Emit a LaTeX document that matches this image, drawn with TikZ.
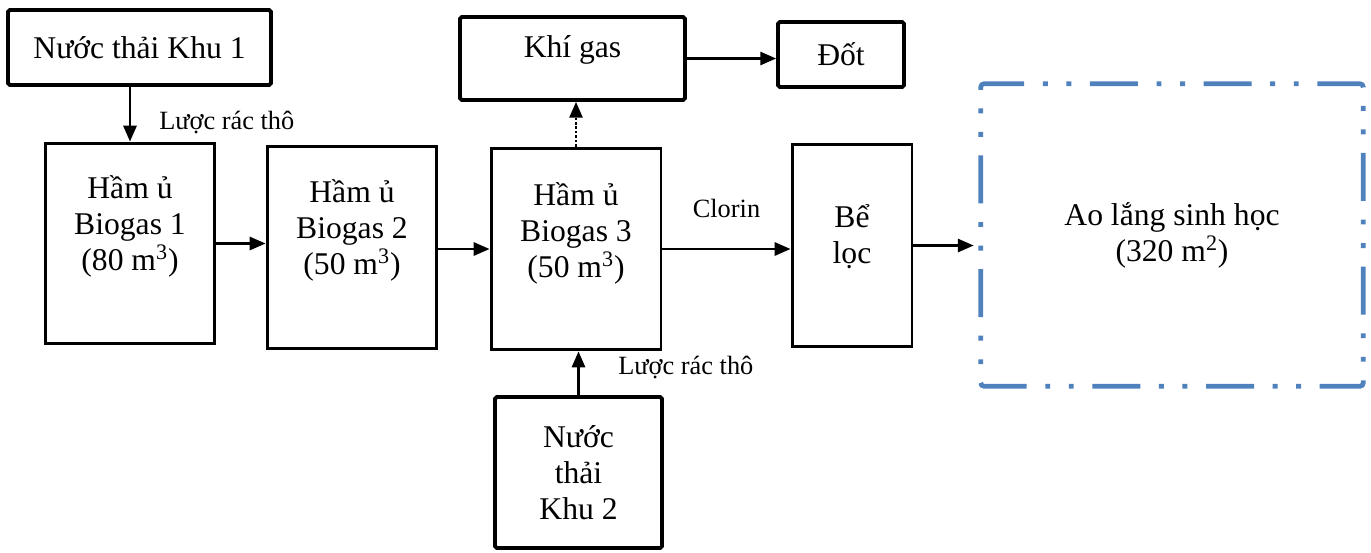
\documentclass[tikz,border=0pt]{standalone}
\usepackage{fontspec}
\setmainfont{Liberation Serif}
\usepackage{xcolor}
\usetikzlibrary{arrows.meta,positioning}
\definecolor{pondblue}{RGB}{79,129,189}

\begin{document}
\begin{tikzpicture}[x=0.02cm, y=-0.02cm, >={Triangle[length=9pt,width=7.5pt]},
  font=\fontsize{18}{20.5}\selectfont,
  src/.style={draw, line width=2.2pt, rounded corners=1pt, inner sep=0pt, align=center},
  tank/.style={draw, line width=1.7pt, inner sep=0pt, align=center},
  txt/.style={align=center, inner sep=0pt},
  lab/.style={font=\fontsize{15}{18}\selectfont, inner sep=1pt},
  flow/.style={->, line width=1.3pt},
  gasflow/.style={flow, dash pattern=on 1.5pt off 1pt},
  pond/.style={draw=pondblue, line width=2.7pt, rounded corners=2pt,
    dash pattern=on 27.3pt off 10.6pt on 2.8pt off 10.6pt on 2.8pt off 10.6pt,
    dash phase=27.3pt}]
\useasboundingbox (0,0) rectangle (1371,552);
% sources
\node[src, minimum width=5.26cm, minimum height=1.5cm] (k1) at (139.5,47.5) {Nước thải Khu 1};
\node[src, minimum width=3.34cm, minimum height=3.02cm] (k2) at (578.5,472.5) {Nước\\thải\\Khu 2};
% biogas tanks
\node[tank, minimum width=3.4cm, minimum height=4.02cm] (h1) at (130,243.5) {};
\node[txt] (h1t) at (130,226) {Hầm ủ\\Biogas 1\\(80 m\textsuperscript{3})};
\node[tank, minimum width=3.4cm, minimum height=4.06cm] (h2) at (352,247.5) {};
\node[txt] (h2t) at (352,230) {Hầm ủ\\Biogas 2\\(50 m\textsuperscript{3})};
\node[tank, minimum width=3.4cm, minimum height=4.04cm] (h3) at (576,249) {};
\node[txt] (h3t) at (576,233) {Hầm ủ\\Biogas 3\\(50 m\textsuperscript{3})};
% gas line
\node[src, minimum width=4.5cm, minimum height=1.66cm] (khi) at (572.5,58.5) {};
\node[txt] (khit) at (572.5,50) {Khí gas};
\node[src, minimum width=2.52cm, minimum height=1.3cm] (dot) at (841,54.5) {Đốt};
% filter and pond
\node[tank, minimum width=2.4cm, minimum height=4.06cm] (be) at (852,245.5) {};
\node[txt] (bet) at (852,237) {Bể\\lọc};
\node[minimum width=7.64cm, minimum height=6.04cm, inner sep=0pt, align=center] (ao) at (1172,235) {Ao lắng sinh học\\(320 m\textsuperscript{2})};
\draw[pond] (ao.south west) -- (ao.north west) -- (ao.north east) -- (ao.south east) -- cycle;
% flows
\draw[flow] (h1.north |- k1.south) -- (h1.north) node[lab, pos=0.65, right=15pt] {Lược rác thô};
\draw[flow] (h1.east) -- (h1.east -| h2.west);
\draw[flow] (h3.west -| h2.east) -- (h3.west);
\draw[flow] (k2.north) -- (k2.north |- h3.south) node[lab, pos=0.64, right=21pt] {Lược rác thô};
\draw[gasflow] (h3.north) -- (h3.north |- khi.south);
\draw[flow] (khi.east) -- (khi.east -| dot.west);
\draw[flow] (h3.east) -- (h3.east -| be.west) node[lab, midway, above=16pt] {Clorin};
\draw[flow, shorten >=4pt] (be.east) -- (be.east -| ao.west);
\end{tikzpicture}
\end{document}
